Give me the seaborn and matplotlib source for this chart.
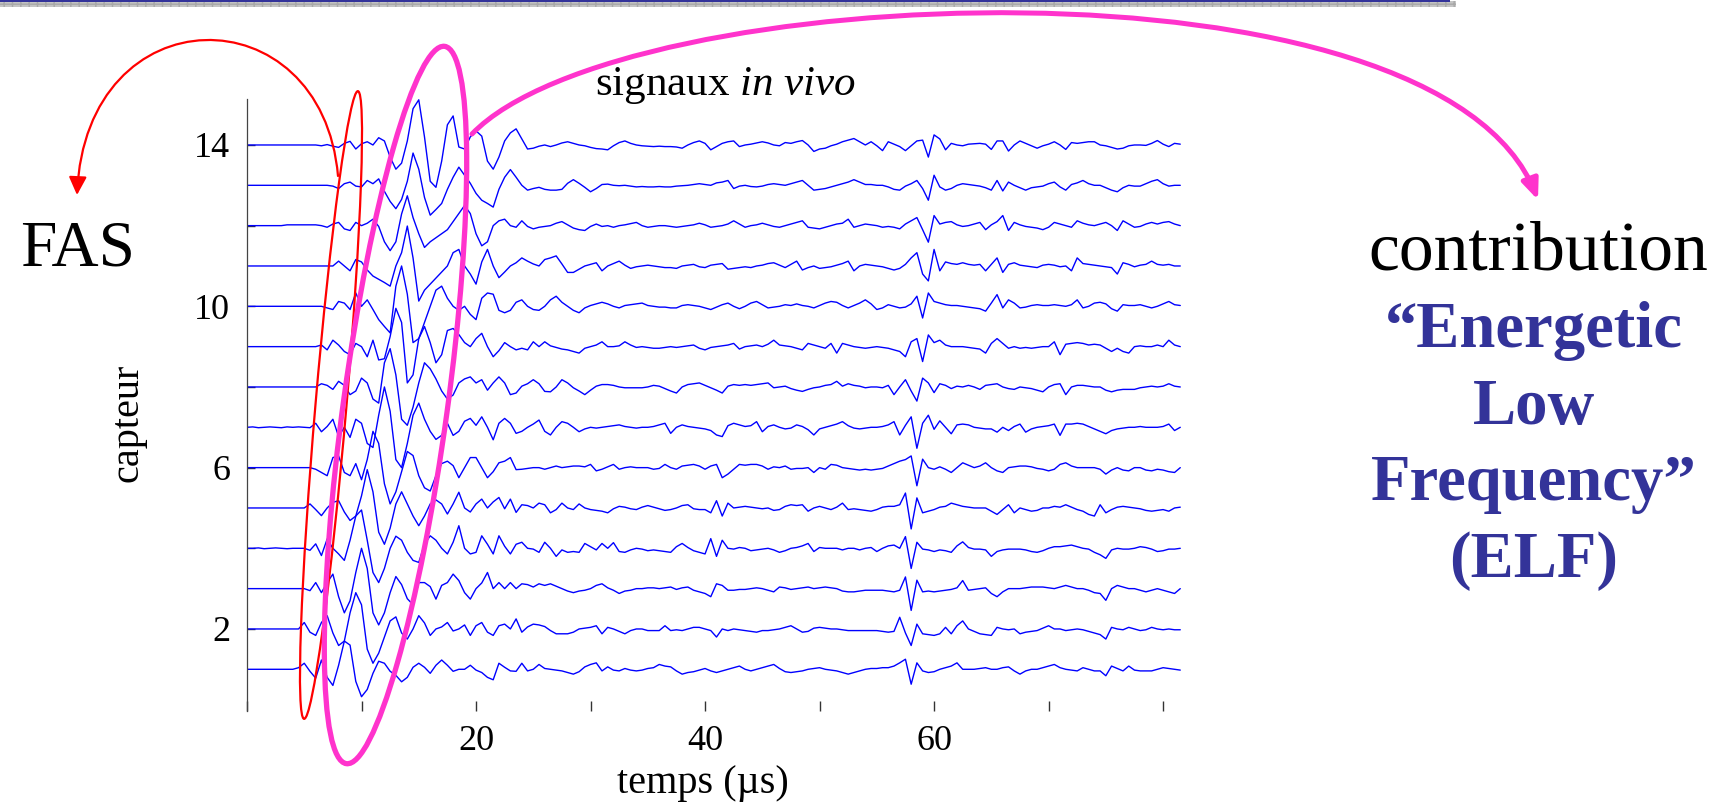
import numpy as np
import pandas as pd
import matplotlib
matplotlib.use("Agg")
import matplotlib.pyplot as plt
import seaborn as sns
from matplotlib.patches import Ellipse, FancyArrowPatch, Rectangle
from matplotlib.path import Path


# =========================================
# DATA (signal amplitude, % of sensor spacing, one sample every 0.5 us)
# =========================================

dt_us = 0.5
sensor_ids = list(range(1, 15))

amp_01 = [0, 0, 0, 0, 0, 0, 0, 0, 0, 4,
          15, -5, -22, 23, -20, -40, 10, 70, 60, -30,
          -68, -50, -10, 20, 15, -5, -15, -31, -20, 5,
          15, 5, -10, 10, 23, 10, -5, 0, 0, 10,
          -2, -8, -20, -26, 15, 5, -4, -5, 15, -4,
          0, 12, 2, 0, -2, -4, -8, -12, -6, 6,
          12, 16, -4, 6, -2, -4, 2, -2, -4, -2,
          2, 4, 12, 8, 6, -4, -12, -8, -6, -2,
          2, -4, -8, -4, 0, 4, 8, 0, -4, 0,
          4, 8, 12, 2, -6, -8, -6, -4, 0, 2,
          4, 0, -2, -4, -8, -12, -8, -4, 0, 2,
          2, 4, 4, 8, 16, 25, -37, 16, -4, -8,
          -6, 0, 4, 8, 16, 0, 0, 0, 2, 4,
          0, 0, 4, 6, -4, -12, -4, 0, 0, 4,
          8, 12, 4, 0, -2, -4, 4, 0, -4, -4,
          -16, 8, 2, -4, 8, -2, -4, -4, -4, 0,
          4, 2, 0, -2]

amp_02 = [0, 0, 0, 0, 0, 0, 0, 0, 0, 0,
          16, -8, -16, 16, 33, -10, -41, -30, 40, 90,
          60, -50, -85, -60, -20, 20, 30, -10, -25, 0,
          33, 15, -16, 0, 5, 16, -5, 0, 10, -16,
          8, 16, -8, -16, 8, 12, 0, 25, -8, 5,
          12, 10, 6, -4, -12, -12, -12, -8, 0, 2,
          4, 8, -12, 4, 0, -6, -12, -4, 0, 0,
          -4, -4, -4, 8, -4, -2, -4, 0, 4, 4,
          0, -4, -20, 0, -4, 0, -2, -4, -6, -8,
          -4, -4, -2, 0, 4, 8, 0, -8, -6, 2,
          4, 2, 0, 0, -2, -4, -4, -4, -4, -4,
          -4, -6, -8, -6, 29, -10, -41, 12, -12, -14,
          -16, -12, 4, -12, 8, 20, 0, -6, -12, -14,
          -16, 4, 0, -2, 0, -12, -8, -6, -4, 2,
          8, 0, 0, -4, -2, 0, -2, -6, -10, -14,
          -25, 4, 0, -2, 4, 0, -4, -2, 4, 0,
          -2, 0, -2, -2]

amp_03 = [0, 0, 0, 0, 0, 0, 0, 0, 0, 0,
          0, -5, 15, -10, 15, 36, -20, -60, -30, 40,
          100, 50, -60, -90, -60, -10, 30, 10, -25, -40,
          15, 15, 5, -26, 8, 15, 36, 20, -10, -26,
          0, 14, 40, 0, 15, 0, 15, 0, 12, 10,
          4, 12, 8, 12, 6, 0, -6, -10, -6, -4,
          0, 8, 12, 2, -4, -12, -6, -4, 0, 0,
          2, 2, 0, 2, 4, -2, 2, 4, -4, -8,
          -12, -20, 12, 8, -4, -4, -2, -2, 0, 2,
          0, -4, -8, 4, 2, -2, 0, 2, 4, 0,
          2, 4, 2, 0, -6, -8, -8, -6, -4, -4,
          -4, -4, -6, -8, -4, 29, -54, 21, -8, -6,
          -8, -6, -4, -2, 2, 20, -4, -2, 0, 2,
          -12, -20, -8, 0, 0, 0, 2, 4, 4, 4,
          2, 0, 4, 8, 4, 0, 0, -4, -10, -12,
          -29, 0, 8, 4, 0, 0, -4, -8, -4, 0,
          -4, -8, -12, 0]

amp_04 = [0, 0, 1, -1, 0, 1, 0, -1, 0, 0,
          0, -5, 11, -18, 23, 0, -14, -30, 20, 80,
          95, 20, -60, -85, -50, 0, 30, 20, -10, -30,
          -35, 10, 31, 20, 0, -14, 15, 56, 0, -14,
          -10, 31, 10, -14, 31, 5, -14, 10, 15, 0,
          -2, -10, 15, 0, -20, -4, -10, -8, -10, 12,
          4, -4, 12, 0, 14, -8, -10, -4, 0, -2,
          -6, -4, -6, -8, -10, 4, 12, 2, -6, -10,
          -14, 24, -20, 20, 0, -2, 2, 0, -6, -4,
          -2, 0, -4, -10, -6, 0, 2, 6, 12, -8,
          2, 0, 0, 0, -4, 0, 0, -4, 0, 2,
          -8, 0, 6, 8, 0, 29, -50, 15, -2, -4,
          -8, -4, -6, -10, 6, 16, 2, -2, -2, -4,
          -20, -8, -4, -2, -2, -2, -4, -8, -10, -6,
          0, 4, 4, 6, 8, 4, 0, -2, -10, -16,
          -25, -4, 0, -2, -2, 0, 4, 2, -2, -8,
          -6, -2, -2, 0]

amp_05 = [0, 0, 0, 0, 0, 0, 0, 0, 0, 0,
          0, 10, -4, -19, 0, 14, 18, -10, -31, -20,
          30, 95, 40, -60, -90, -50, 10, 40, 10, -20,
          -44, -20, 10, 20, 10, -15, 10, 39, 0, -10,
          10, 22, 0, 15, 26, -2, 22, -11, 8, 6,
          0, 12, 8, -12, -4, 12, 0, -4, 10, 0,
          -4, -6, -8, -12, -2, 4, 2, -2, -4, 2,
          6, 2, -2, -6, -4, 0, 6, 8, -2, -4,
          -4, -12, 18, -20, 12, 0, 2, 4, 2, 0,
          -2, 0, -6, -4, 4, 8, 6, 8, -8, 0,
          4, 0, -4, 2, 12, -4, -2, -4, -6, -8,
          -4, 2, 4, 4, 8, 37, -52, 25, -12, -8,
          -4, 2, 4, 12, 8, 4, 2, 0, 0, 0,
          -8, -16, -4, 8, -12, 0, -4, -8, -6, 0,
          0, 4, 2, 8, 2, -4, -8, -16, -20, 8,
          -12, -4, 2, 4, 2, 0, -2, -6, -8, -6,
          -4, -8, 0, 2]

amp_06 = [0, 0, 0, 0, 0, 0, 0, 0, 0, 0,
          0, 0, -4, -12, -20, 25, 29, -12, -20, 10,
          -30, 20, 90, 60, -40, -90, -60, -10, 40, 30,
          -20, -50, -58, -20, 10, 16, 5, -25, 0, 25,
          25, 0, -25, -10, 12, 16, 25, -5, -4, -2,
          0, 0, -4, 0, 4, 0, 2, 4, 4, 2,
          8, -8, -4, 2, 8, -4, 0, 2, 0, 0,
          0, -4, -2, 8, 0, -4, 4, 6, 8, 4,
          -4, 4, 8, -25, -16, -4, 8, 6, 8, 8,
          4, -4, 2, 0, 4, -4, -2, -2, 0, -12,
          0, -4, 8, 6, 0, -2, -4, -6, -4, -6,
          -4, -2, 4, 10, 16, 20, 29, -45, 21, 0,
          -4, 2, -4, -12, 0, 12, 6, 0, 4, 12,
          0, -8, -12, 0, 2, 4, 4, 2, -2, -4,
          -8, -4, 8, 12, 4, 0, 0, 0, 0, -4,
          -16, -6, 0, -6, -8, 0, 0, -6, -8, -4,
          -6, -10, -12, 0]

amp_07 = [0, 1, -1, 0, 1, 0, -1, 1, 0, 1,
          0, -1, 10, -11, 2, 20, -23, 0, -25, 20,
          10, -40, -50, 30, 100, 40, -80, -100, -40, 30,
          60, 20, -10, -30, -20, 10, -20, -10, 15, 22,
          5, 26, 0, -31, 10, 22, 10, -15, -10, 0,
          8, 18, -10, -19, 0, 14, 10, 0, -11, -4,
          0, -2, 0, 2, 4, 6, 2, 0, -2, 0,
          0, 2, 6, 10, -15, 0, 6, 2, 0, -2,
          -4, -8, -19, -23, 4, 10, 6, 2, 4, 14,
          -11, 2, 6, 0, -4, -2, 6, 2, -6, -19,
          -4, 0, 4, 8, 14, 4, -2, -4, -2, 0,
          0, 2, 6, 14, -19, 5, 26, -52, 10, 30,
          -5, 16, 0, -16, 6, 8, 6, 0, -2, -4,
          -4, -12, 0, -8, 2, 8, -12, -4, 0, 2,
          4, 8, -20, 8, 8, 10, 8, 2, -4, -10,
          -16, -8, -4, -2, 0, 0, 2, 0, 0, 0,
          2, 8, -8, 0]

amp_08 = [0, 0, 0, 0, 0, 0, 0, 0, 0, 0,
          0, 0, 0, 8, 4, -6, 14, 4, -19, -10,
          22, 10, -30, -40, 60, 95, 30, -80, -95, -50,
          10, 60, 45, 20, -10, -30, -20, 10, 20, 25,
          10, 18, -8, 10, 25, 10, -19, -15, 2, 8,
          18, 8, -11, -12, 0, 18, 10, -2, -10, -19,
          -8, 2, 6, 6, 4, 0, -2, -2, -2, -2,
          0, 4, 2, -4, -10, -15, 0, 6, 8, 10,
          4, -2, -8, -15, 2, 6, 4, 6, 4, 6,
          8, 10, -2, 0, 2, -4, -8, -11, -6, -2,
          0, 4, 6, 14, 2, 8, 4, 2, -2, 0,
          0, -2, 4, -19, 0, 18, -10, -35, 22, 10,
          -14, 8, 4, -4, 2, 0, 4, 0, -6, 4,
          6, 8, 0, -4, -6, 0, -2, -4, -8, -12,
          0, 6, 8, -19, 0, 4, 4, 2, 0, 0,
          -8, -12, -8, -6, -6, -6, -2, 0, 2, 0,
          2, 8, 2, 0]

amp_09 = [0, 0, 0, 0, 0, 0, 0, 0, 0, 0,
          0, 0, 0, 4, -8, 16, 4, -12, -20, 8,
          0, -25, 16, -33, -30, 25, 95, 60, -90, -70,
          20, 50, 10, -40, -20, 40, 45, 30, 10, 0,
          20, 33, 0, -25, -10, 10, 0, -8, -4, -8,
          12, 0, 12, 2, -2, -6, -8, -12, -16, -4,
          0, 4, 12, 0, 0, 2, 12, 4, -2, 0,
          -2, -4, -4, -2, 0, -2, 0, 2, 4, -4,
          -8, -2, 0, 2, 4, 8, -6, 0, 2, 4,
          0, 6, 16, 4, 2, 0, -4, -8, 8, 4,
          0, -4, 8, -16, 8, 4, 0, -2, -4, -2,
          0, -2, -4, -8, -12, -25, 12, 20, -37, 29,
          10, 16, 4, 0, 0, 0, -2, -4, -6, -16,
          8, 20, 8, -4, 0, -4, -2, -4, -2, 0,
          0, 12, -20, 6, 8, 10, 8, 4, 6, 4,
          -4, -12, -4, -12, -16, 0, 2, 0, 0, 4,
          0, 16, 4, 0]

amp_10 = [0, 0, 0, 0, 0, 0, 0, 0, 0, 0,
          0, 0, 0, 0, -4, -8, 12, 8, -8, 33,
          0, 16, -8, -33, -50, -66, 50, 100, 30, -90,
          -80, -40, 0, 40, 50, 20, 0, -10, 0, -20,
          -33, 20, 33, 30, -10, -16, -10, 10, 16, 0,
          -8, -10, 0, 16, 25, 10, 0, -10, -16, -4,
          2, 6, 10, 6, 0, -4, 2, 4, 6, 8,
          2, 0, -2, -2, -4, -4, 2, 4, 2, 0,
          -4, -8, -2, 4, 8, 0, -6, 0, 8, 12,
          4, -4, -2, 0, 4, 2, 6, 2, 0, -4,
          2, 8, 12, 10, 2, -4, 2, 8, 16, 6,
          -8, -4, 4, 0, -4, -2, 6, 25, -29, 33,
          12, 8, 4, 2, 2, 0, -2, -4, -6, -12,
          8, 29, -4, 16, 8, -4, -2, 2, 4, 2,
          2, 4, 2, 0, 4, 16, -4, 0, 8, 10,
          6, -6, -12, 4, 2, 2, 4, 0, -4, 0,
          6, 12, 4, 2]

amp_11 = [0, 0, 0, 0, 0, 0, 0, 0, 0, 0,
          0, 0, 0, 0, 0, 0, 12, 0, -12, 16,
          10, -10, -25, -33, -41, -50, 0, 33, 99, 20,
          -87, -60, -45, -30, -15, 0, 33, 41, 0, -20,
          -45, 10, 41, 0, -29, -15, 0, 8, 20, 12,
          5, 0, 16, 20, 25, 5, -16, -16, -8, 0,
          4, 8, -12, 0, 6, 12, 2, -6, -2, 0,
          2, 0, -2, -4, -4, -6, 0, 2, 4, -2,
          -4, 2, 4, 6, -8, -6, -4, -2, -4, 0,
          2, 6, 8, 2, -4, 4, 12, -10, -4, 0,
          -6, -4, -2, 2, 6, 12, -12, 0, 4, 2,
          0, -2, -6, -10, -6, 4, 20, 33, -20, -37,
          41, -12, 10, 6, 4, 8, 4, 2, 4, -12,
          4, 20, -16, 4, 8, 2, 0, -2, -4, 2,
          4, 2, -2, 0, -12, 20, 6, 4, 2, 0,
          -2, -4, -20, 8, 4, -2, 2, 4, 12, 4,
          2, 4, 0, 0]

amp_12 = [0, 0, 0, 0, 0, 0, 0, 2, 2, 2,
          2, 2, 2, 0, -4, 4, 8, -8, -12, 8,
          0, 6, 16, -2, -40, -62, -40, 29, 74, 20,
          -20, -54, -40, -30, -20, -10, 10, 30, 50, 30,
          -20, -50, -40, 0, 12, 16, 0, -4, 12, -2,
          -8, -4, -2, 0, 6, 10, 2, -6, -10, -12,
          -2, 4, -2, 0, -4, 0, 2, 5, 8, 0,
          -4, -2, 0, 0, -2, -4, -2, 0, 2, 6,
          2, -4, -2, 0, 4, 12, 4, -4, 0, 2,
          6, 2, -2, -4, 0, 4, 8, 12, -4, -6,
          -8, -4, 0, 4, 6, 16, -4, 0, 4, 2,
          0, -4, -2, -4, -8, 4, 12, 20, -10, -41,
          25, 4, 8, 10, 2, -2, 0, 4, 8, -10,
          2, 10, 25, -12, 8, 2, -2, -4, -6, -10,
          -4, 8, 4, 0, -4, 12, 6, 2, 0, 4,
          8, 0, -12, 12, 4, -4, -2, 4, 8, 4,
          8, 10, 4, 0]

amp_13 = [0, 0, 0, 0, 0, 0, 0, 0, 0, 0,
          0, 0, 0, 0, 0, -2, -8, 4, 8, -2,
          -4, 12, 4, 16, -15, -40, -58, -35, 10, 80,
          40, -30, -74, -60, -45, -10, 20, 45, 25, 5,
          -20, -37, -45, -54, -10, 20, 39, 20, 0, -12,
          -8, -5, -10, -12, -12, -10, 5, 14, 5, -5,
          -16, -8, 2, 3, 0, -1, 0, -2, -4, -3,
          -4, -4, -3, -4, -4, -2, -1, 0, 2, 4,
          2, 0, 6, 8, 12, -8, -2, 0, -3, -4,
          -2, 2, 4, 2, 0, 4, 8, 12, 0, -12,
          -10, -8, -4, 0, 4, 8, 14, 8, 2, 2,
          0, 0, -4, -10, -12, -2, 4, 12, -8, -37,
          25, -4, -12, -8, 0, 4, 2, 0, -2, -6,
          -12, 12, -14, 8, 0, -6, -12, -6, -4, -2,
          4, 8, -4, -12, 2, 6, 12, 4, 0, 0,
          -6, -12, -16, -6, 0, -2, -2, 4, 10, 14,
          4, -2, 0, 0]

amp_14 = [0, 0, 0, 0, 0, 0, 0, 0, 0, 0,
          0, 0, 0, -2, 1, -3, -6, 4, 9, -10,
          3, 8, 0, 18, 10, -30, -60, -45, 10, 90,
          112, 20, -90, -105, -40, 50, 72, -5, -10, 20,
          35, 22, -40, -60, -30, 10, 30, 40, 15, -10,
          -8, -3, 0, -4, 0, 5, 8, 4, 0, -2,
          -6, -9, -10, -12, -2, 6, 10, 4, 0, -2,
          -3, -4, -3, -4, -4, -5, -8, 0, 6, 10,
          4, -12, -4, 4, 8, 10, -4, 0, 2, 5,
          8, 5, 0, -2, 6, 4, 8, 11, 0, -16,
          -10, -8, -2, 2, 8, 12, 16, 8, 0, 8,
          -2, -14, 8, 2, -4, -14, -2, 10, 12, -30,
          25, 15, -12, 4, 0, -2, 2, 3, 4, 2,
          -11, 10, 10, -15, 0, 10, 4, -2, -8, -2,
          2, 8, 0, -11, 6, 4, 6, 8, 8, 0,
          -2, -6, -10, -8, -2, 0, 0, -1, 4, 11,
          2, -4, 4, 2]

traces = [amp_01, amp_02, amp_03, amp_04, amp_05, amp_06, amp_07,
          amp_08, amp_09, amp_10, amp_11, amp_12, amp_13, amp_14]

x_ticks = [0, 10, 20, 30, 40, 50, 60, 70, 80]
x_tick_labels = ["", "", "20", "", "40", "", "60", "", ""]
y_ticks = [2, 4, 6, 8, 10, 12, 14]
y_tick_labels = ["2", "", "6", "", "10", "", "14"]

elf_lines = ["\u201cEnergetic", "Low", "Frequency\u201d", "(ELF)"]


# =========================================
# LONG TABLE FOR SEABORN
# =========================================

rows = []
for sensor, amp in zip(sensor_ids, traces):
    for i, a in enumerate(amp):
        rows.append({"temps": i * dt_us, "capteur": sensor, "signal": sensor + a / 100})
df = pd.DataFrame(rows)


# =========================================
# STYLE
# =========================================

sns.set_style("white")
plt.rcParams["font.family"] = ["Liberation Serif", "DejaVu Serif"]
plt.rcParams["mathtext.fontset"] = "custom"
plt.rcParams["mathtext.rm"] = "Liberation Serif"
plt.rcParams["mathtext.it"] = "Liberation Serif:italic"
plt.rcParams["text.color"] = "black"
plt.rcParams["axes.labelcolor"] = "black"
plt.rcParams["xtick.labelcolor"] = "black"
plt.rcParams["ytick.labelcolor"] = "black"

W, H = 1722, 806
fig = plt.figure(figsize=(W / 100, H / 100), dpi=100)
ax = fig.add_axes([247 / W, 1 - 711 / H, 939 / W, 612 / H])


def px(x, y):
    # picture pixels (y downwards) -> inches for fig.dpi_scale_trans
    return (x / 100, (H - y) / 100)


# =========================================
# TRACES
# =========================================

sns.lineplot(data=df, x="temps", y="signal", units="capteur", estimator=None,
             color="#0000FF", linewidth=1.0, sort=False, legend=False, ax=ax)

ax.set_xlim(0, 82)
ax.set_ylim(-0.034, 15.14)

for side in ["top", "right", "bottom"]:
    ax.spines[side].set_visible(False)
ax.spines["left"].set_color("#444444")
ax.spines["left"].set_linewidth(0.9)

ax.set_xticks(x_ticks, x_tick_labels)
ax.set_yticks(y_ticks, y_tick_labels)
# the "white" style switches the tick marks off: bring them back
ax.tick_params(axis="x", bottom=True, direction="in", length=7, width=1.0, color="#333333",
               labelcolor="black", labelsize=26, pad=10)
ax.tick_params(axis="y", left=True, direction="in", length=6, width=1.0, color="#333333",
               labelcolor="black", labelsize=26, pad=12)

ax.set_xlabel("temps (\u00b5s)", fontsize=29, color="black")
ax.xaxis.set_label_coords((703 - 247) / 939, (711 - 784) / 612)
ax.xaxis.label.set_verticalalignment("center")
ax.set_ylabel("capteur", fontsize=29, color="black")
ax.yaxis.set_label_coords((128.5 - 247) / 939, (711 - 423) / 612)
ax.yaxis.label.set_verticalalignment("center")

ax.text((725 - 247) / 939, (711 - 95) / 612, r"signaux $\mathit{in\ vivo}$",
        transform=ax.transAxes, ha="center", va="baseline", fontsize=31, color="black")


# =========================================
# ANNOTATIONS
# =========================================

fig.add_artist(Ellipse(px(331, 405), width=6.30, height=0.31, angle=85.1,
                       transform=fig.dpi_scale_trans, fill=False,
                       edgecolor="#FF0000", lw=1.6))
fig.add_artist(Ellipse(px(395.5, 405), width=7.24, height=1.04, angle=82.2,
                       transform=fig.dpi_scale_trans, fill=False,
                       edgecolor="#FF33CC", lw=3.8))

codes = [Path.MOVETO, Path.CURVE4, Path.CURVE4, Path.CURVE4]
red_path = Path([px(338, 176), px(322, -8), px(86, -8), px(77, 195)], codes)
fig.add_artist(FancyArrowPatch(path=red_path, arrowstyle="-|>,head_length=0.55,head_width=0.27",
                               mutation_scale=20, color="#FF0000", lw=1.6,
                               transform=fig.dpi_scale_trans))
pink_path = Path([px(472, 134), px(620, -20), px(1440, -55), px(1538, 200)], codes)
fig.add_artist(FancyArrowPatch(path=pink_path, arrowstyle="-|>,head_length=0.6,head_width=0.25",
                               mutation_scale=20, color="#FF33CC", lw=3.6,
                               transform=fig.dpi_scale_trans))

fig.text(77 / W, 1 - 266 / H, "FAS", ha="center", va="baseline", fontsize=47, color="black")
fig.text(1538 / W, 1 - 270 / H, "contribution", ha="center", va="baseline",
         fontsize=50, color="black")
for line, base in zip(elf_lines, [347, 424, 500, 577]):
    fig.text(1534 / W, 1 - base / H, line, ha="center", va="baseline",
             fontsize=46.5, fontweight="bold", color="#333399")

# slide header band
fig.add_artist(Rectangle((0, 1 - 7 / H), 1456 / W, 5.5 / H, transform=fig.transFigure,
                         facecolor="#C4C4C4", edgecolor="#A8A8A8", hatch="++", lw=0))
fig.add_artist(Rectangle((0, 1 - 1.6 / H), 1450 / W, 1.6 / H, transform=fig.transFigure,
                         facecolor="#33339A", lw=0))

fig.savefig("out.png", dpi=100)
